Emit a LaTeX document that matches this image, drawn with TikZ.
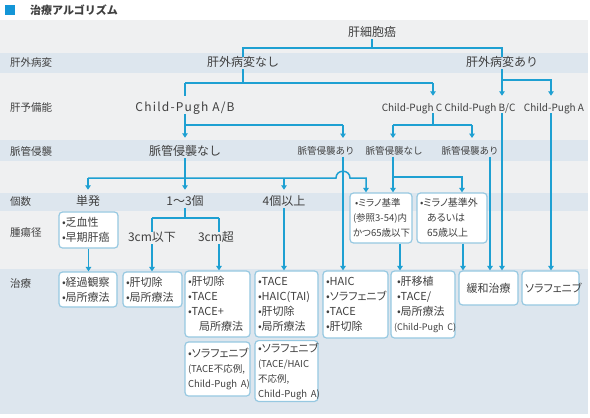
\documentclass[tikz,border=0pt]{standalone}
\usepackage{fontspec}
\setmainfont{Noto Sans CJK JP}
\newfontfamily\jpp{Noto Sans CJK JP}[RawFeature=+palt]
\newfontfamily\jpls{Noto Sans CJK JP}[LetterSpace=10]
\usetikzlibrary{arrows.meta}
\definecolor{lineblue}{RGB}{30,160,210}
\definecolor{titleblue}{RGB}{20,150,215}
\definecolor{bggray}{RGB}{239,240,241}
\definecolor{bandc}{RGB}{221,230,238}
\definecolor{boxline}{RGB}{150,200,225}
\definecolor{txt}{RGB}{64,64,64}
\newcommand\pnote[1]{\mbox{\fontsize{9.5}{15}\selectfont #1}}
\newcommand\bxline[1]{\mbox{#1}}
\begin{document}
\begin{tikzpicture}[x=1pt,y=-1pt,
  conn/.style={draw=lineblue,line width=1.5pt},
  arr/.style={conn,-{Triangle[length=4.5pt,width=5.5pt]}},
  big/.style={font=\fontsize{12}{14}\selectfont,text=txt,inner sep=0pt,text height=9.5pt,text depth=2.5pt},
  sml/.style={font=\fontsize{9.5}{11}\selectfont,text=txt,inner sep=0pt,text height=7.6pt,text depth=1.9pt},
  cpl/.style={font=\fontsize{10}{12}\selectfont,text=txt,inner sep=0pt,text height=8pt,text depth=2pt},
  rowlbl/.style={font=\fontsize{10.5}{12}\selectfont,text=txt,anchor=west,inner sep=0pt},
  box/.style={draw=boxline,fill=white,rounded corners=3.5pt,line width=1.2pt,inner xsep=3pt,inner ysep=2pt,align=left,font=\jpp\fontsize{11}{15}\selectfont,text=txt},
  ]
\useasboundingbox (0,0) rectangle (590,418);
% backgrounds
\fill[bggray] (0,20) rectangle (588,414);
\foreach \a/\b in {53/73,140/161,193/211,269/414} \fill[bandc] (0,\a) rectangle (588,\b);

% title
\node[fill=titleblue,minimum size=10pt,inner sep=0pt] (sq) at (10,10) {};
\node[anchor=west,font=\bfseries\fontsize{11}{13}\selectfont,text=txt,inner sep=0pt] (title) at (30,10) {治療アルゴリズム};

% row labels
\node[rowlbl] (r1) at (10,63) {肝外病変};
\node[rowlbl] (r2) at (10,108) {肝予備能};
\node[rowlbl] (r3) at (10,152) {脈管侵襲};
\node[rowlbl] (r4) at (10,202) {個数};
\node[rowlbl] (r5) at (10,233) {腫瘍径};
\node[rowlbl] (r6) at (10,284) {治療};

% tree labels
\node[big] (hcc) at (372,33) {肝細胞癌};
\node[big] (ex1) at (243,63) {肝外病変なし};
\node[big] (ex2) at (502,63) {肝外病変あり};
\node[big,font=\jpls\fontsize{12}{14}\selectfont] (cpab) at (185,108) {Child-Pugh A/B};
\node[cpl] (cpc) at (412,108) {Child-Pugh C};
\node[cpl] (cpbc) at (480,108) {Child-Pugh B/C};
\node[cpl] (cpa) at (554,108) {Child-Pugh A};
\node[big] (vn1) at (185,152) {脈管侵襲なし};
\node[sml] (va1) at (326,152) {脈管侵襲あり};
\node[sml] (vn2) at (394,152) {脈管侵襲なし};
\node[sml] (va2) at (470,152) {脈管侵襲あり};
\node[big] (tan) at (88,202) {単発};
\node[big] (n13) at (185,202) {1～3個};
\node[big] (n4) at (284,202) {4個以上};
\node[big] (cm1) at (152,238) {3cm以下};
\node[big] (cm2) at (216,238) {3cm超};

% boxes
\node[box,text width=53pt,minimum height=36pt] (b0) at (88.5,230) {\bxline{•乏血性}\\\bxline{•早期肝癌}};
\node[box,font=\jpp\fontsize{9.5}{15}\selectfont,text width=56pt,minimum height=50pt] (m1) at (381,218) {\bxline{\hspace*{2pt}•ミラノ基準}\\\bxline{(参照3-54)内}\\\bxline{かつ65歳以下}};
\node[box,font=\jpp\fontsize{10}{15}\selectfont,text width=64pt,minimum height=50pt] (m2) at (452,218) {\bxline{•ミラノ基準外}\\\bxline{\hspace*{0.7em}あるいは}\\\bxline{\hspace*{0.7em}65歳以上}};
\node[box,text width=52pt,minimum height=35pt] (b1) at (88,289.5) {\bxline{•経過観察}\\\bxline{•局所療法}};
\node[box,text width=53pt,minimum height=35pt] (b2) at (152.5,289.5) {\bxline{•肝切除}\\\bxline{•局所療法}};
\node[box,text width=59pt,minimum height=66pt] (b3) at (217.5,304) {\bxline{•肝切除}\\\bxline{•TACE}\\\bxline{•TACE+}\\\bxline{\hspace*{1em}局所療法}};
\node[box,text width=59pt,minimum height=54pt] (b4) at (217.5,369) {\bxline{•ソラフェニブ}\\\pnote{(TACE不応例,}\\\pnote{Child-Pugh A)}};
\node[box,text width=57pt,minimum height=66pt] (b5) at (286.5,304) {\bxline{•TACE}\\\bxline{•HAIC(TAI)}\\\bxline{•肝切除}\\\bxline{•局所療法}};
\node[box,text width=57pt,minimum height=58pt] (b6) at (286.5,371) {\bxline{•ソラフェニブ}\\\pnote{(TACE/HAIC}\\\pnote{不応例,}\\\pnote{Child-Pugh A)}};
\node[box,text width=59pt,minimum height=67pt] (b7) at (355.5,304.5) {\bxline{•HAIC}\\\bxline{•ソラフェニブ}\\\bxline{•TACE}\\\bxline{•肝切除}};
\node[box,text width=58pt,minimum height=67pt] (b8) at (423,304.5) {\bxline{\hspace*{3pt}•肝移植}\\\bxline{\hspace*{3pt}•TACE/}\\\bxline{\hspace*{3pt}•局所療法}\\\bxline{\fontsize{9}{15}\selectfont(Child-Pugh C)}};
\node[box,align=center,text width=53pt,minimum height=34pt] (b9) at (488.5,288) {緩和治療};
\node[box,align=center,text width=51pt,minimum height=34pt] (b10) at (550.5,288) {ソラフェニブ};

% connectors: top
\coordinate (t1) at (243,48); \coordinate (t2) at (502,48);
\draw[conn] (hcc.south) -- (hcc.south |- t1);
\draw[conn] (ex1.north) -- (t1) -- (t2) -- (ex2.north);

% liver function
\coordinate (u0) at (185,83); \coordinate (u1) at (243,83); \coordinate (u2) at (433,83);
\draw[conn] (ex1.south) -- (u1);
\draw[conn] (u0) -- (u2);
\draw[conn,shorten >=6pt] (u0) -- (u0 |- cpab.north);
\draw[arr,shorten >=7pt] (u2) -- (u2 |- cpc.north);
\coordinate (w2) at (551,80);
\draw[arr,shorten >=7pt] (ex2.south) -- (ex2.south |- cpbc.north);
\draw[arr,shorten >=7pt] (ex2.south |- w2) -- (w2) -- (w2 |- cpa.north);
\draw[arr] (ex2.south |- cpbc.south) -- (ex2.south |- b9.north);
\draw[arr] (w2 |- cpa.south) -- (w2 |- b10.north);

% vascular invasion
\coordinate (p0) at (185,125); \coordinate (p1) at (343,125);
\draw[conn] (cpab.south) -- (p0) -- (p1);
\draw[arr,shorten >=8pt] (p0) -- (p0 |- vn1.north);
\draw[arr,shorten >=9pt] (p1) -- (p1 |- va1.north);
\coordinate (v1) at (393,125); \coordinate (v2) at (472,125);
\draw[conn] (u2 |- cpc.south) -- (u2 |- v1);
\draw[conn] (v1) -- (v2);
\draw[arr,shorten >=9pt] (v1) -- (v1 |- vn2.north);
\draw[arr,shorten >=9pt] (v2) -- (v2 |- va2.north);

% number
\coordinate (q0) at (88,178); \coordinate (q1) at (185,178); \coordinate (q2) at (284,178);
\coordinate (q3) at (336,178); \coordinate (q4) at (350,178); \coordinate (q5) at (366,178);
\draw[arr] (p1 |- va1.south) -- (p1 |- b7.north);
\draw[conn] (vn1.south) -- (q1);
\draw[arr] (q0) -- (q3) .. controls +(0,-9) and +(0,-9) .. (q4) -- (q5) -- (q5 |- m1.north);
\draw[arr,shorten >=6pt] (q0) -- (q0 |- tan.north);
\draw[arr,shorten >=6pt] (q1) -- (q1 |- n13.north);
\draw[arr,shorten >=6pt] (q2) -- (q2 |- n4.north);
\coordinate (s0) at (393,177); \coordinate (s1) at (462,177);
\draw[arr] (v1 |- vn2.south) -- (v1 |- m1.north);
\draw[arr] (s0) -- (s1) -- (s1 |- m2.north);
\coordinate (va2x) at (490,0);
\draw[arr] (va2.south -| va2x) -- (va2x |- b9.north);

% tumour size
\coordinate (h0) at (152,218); \coordinate (h1) at (185,218); \coordinate (h2) at (219,218);
\draw[conn] (n13.south) -- (h1);
\draw[conn] (h0) -- (h2);
\draw[conn] (h0) -- (h0 |- cm1.north);
\draw[conn] (h2) -- (h2 |- cm2.north);

% to treatments
\draw[arr] (b0.south) -- (b0.south |- b1.north);
\draw[arr] (cm1.south) -- (cm1.south |- b2.north);
\draw[arr] (h2 |- cm2.south) -- (h2 |- b3.north);
\draw[arr] (n4.south) -- (n4.south |- b5.north);
\coordinate (m1x) at (400,0); \coordinate (m2x) at (463,0);
\draw[arr] (m1.south -| m1x) -- (m1x |- b8.north);
\draw[arr] (m2.south -| m2x) -- (m2x |- b9.north);
\end{tikzpicture}
\end{document}
